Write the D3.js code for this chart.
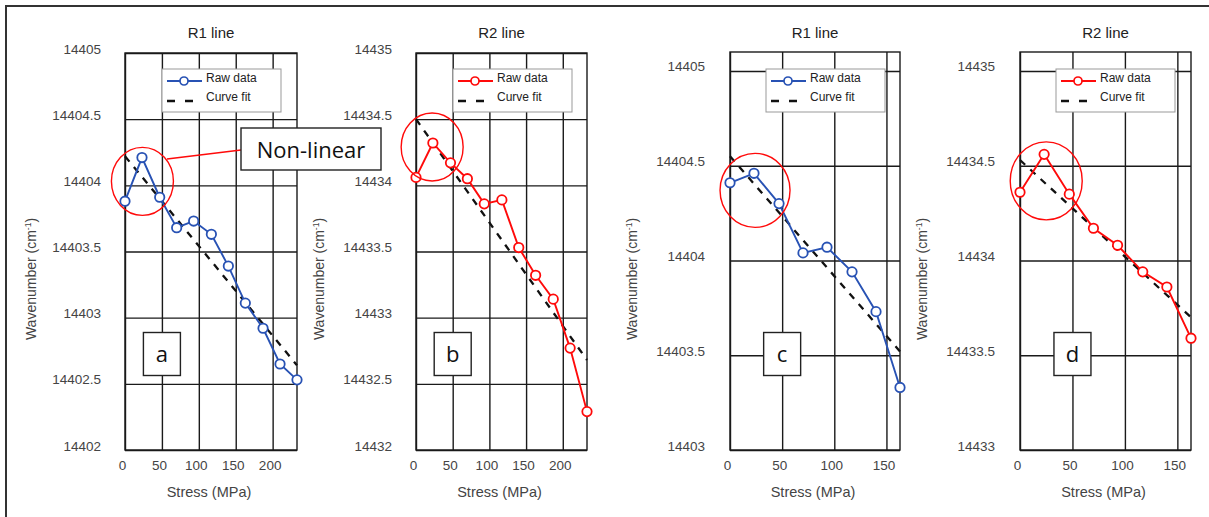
<!DOCTYPE html>
<html>
<head>
<meta charset="utf-8">
<script src="https://cdn.jsdelivr.net/npm/d3@7"></script>
<style>
  body { margin: 0; background: #fff; }
  svg { display: block; font-family: "Liberation Sans", Arial, sans-serif; }
</style>
</head>
<body>
<svg id="chart" width="1209" height="517"></svg>
<script>
// stress steps (MPa)
var stressAB = [0, 23, 47, 70, 93, 117, 140, 163, 187, 210, 233];
var stressCD = [0, 23, 47, 70, 93, 117, 140, 163];

// raw wavenumbers (cm-1)
var rawA = [14403.88, 14404.21, 14403.91, 14403.68, 14403.73, 14403.63, 14403.39, 14403.11, 14402.92, 14402.65, 14402.53];
var rawB = [14434.06, 14434.32, 14434.17, 14434.05, 14433.86, 14433.89, 14433.53, 14433.32, 14433.14, 14432.77, 14432.29];
var rawC = [14404.41, 14404.46, 14404.30, 14404.04, 14404.07, 14403.94, 14403.73, 14403.33];
var rawD = [14434.36, 14434.56, 14434.35, 14434.17, 14434.08, 14433.94, 14433.86, 14433.59];

// linear fit end points [at 0, at max stress]
var fitA = [14404.22, 14402.64];
var fitB = [14434.50, 14432.68];
var fitC = [14404.55, 14403.52];
var fitD = [14434.53, 14433.70];

// tick labels
var xTicksAB = [0, 50, 100, 150, 200];
var xTicksCD = [0, 50, 100, 150];
var yTicksA = [14402, 14402.5, 14403, 14403.5, 14404, 14404.5, 14405];
var yTicksB = [14432, 14432.5, 14433, 14433.5, 14434, 14434.5, 14435];
var yTicksC = [14403, 14403.5, 14404, 14404.5, 14405];
var yTicksD = [14433, 14433.5, 14434, 14434.5, 14435];

// "non-linear" region marks (stress, wavenumber)
var nonLinearA = [23.6, 14404.03];
var nonLinearB = [22, 14434.29];
var nonLinearC = [24, 14404.37];
var nonLinearD = [25, 14434.42];

var blue = "#2852b4", red = "#ff0a0a";

var panels = [
  {title: "R1 line", tag: "a", x: stressAB, y: rawA, fit: fitA, xt: xTicksAB, yt: yTicksA,
   xmax: 233, ymin: 14402, ymax: 14405, color: blue, ring: nonLinearA, rx: 31, ry: 34,
   left: 125, right: 297, top: 53, bottom: 450, ylabX: 35, tickX: 101, legX: 162},
  {title: "R2 line", tag: "b", x: stressAB, y: rawB, fit: fitB, xt: xTicksAB, yt: yTicksB,
   xmax: 233, ymin: 14432, ymax: 14435, color: red, ring: nonLinearB, rx: 31, ry: 34,
   left: 416, right: 587, top: 53, bottom: 450, ylabX: 323, tickX: 392, legX: 453},
  {title: "R1 line", tag: "c", x: stressCD, y: rawC, fit: fitC, xt: xTicksCD, yt: yTicksC,
   xmax: 163, ymin: 14403, ymax: 14405.1, color: blue, ring: nonLinearC, rx: 35, ry: 37,
   left: 730, right: 900, top: 52, bottom: 450, ylabX: 636, tickX: 705, legX: 766},
  {title: "R2 line", tag: "d", x: stressCD, y: rawD, fit: fitD, xt: xTicksCD, yt: yTicksD,
   xmax: 163, ymin: 14433, ymax: 14435.1, color: red, ring: nonLinearD, rx: 36, ry: 39,
   left: 1020, right: 1191, top: 52, bottom: 450, ylabX: 926, tickX: 995, legX: 1056}
];

var svg = d3.select("#chart");

// frame (top and left edges only)
svg.append("path")
    .attr("d", "M6,517V6H1209")
    .attr("fill", "none")
    .attr("stroke", "#333")
    .attr("stroke-width", 2);

var fmt = function(v){ return String(+v.toFixed(1)); };

panels.forEach(function(p){
    var xs = d3.scaleLinear().domain([0, p.xmax]).range([p.left, p.right]);
    var ys = d3.scaleLinear().domain([p.ymin, p.ymax]).range([p.bottom, p.top]);
    var g = svg.append("g");
    var w = p.right - p.left, h = p.bottom - p.top;

    // grid via axes
    var gx = g.append("g")
        .attr("transform", "translate(0," + p.bottom + ")")
        .call(d3.axisBottom(xs).tickValues(p.xt).tickSize(-h).tickFormat(d3.format("d")));
    var gy = g.append("g")
        .attr("transform", "translate(" + p.left + ",0)")
        .call(d3.axisLeft(ys).tickValues(p.yt).tickSize(-w).tickFormat(fmt));
    [gx, gy].forEach(function(a){
        a.select(".domain").remove();
        a.selectAll("line").attr("stroke", "#1a1a1a").attr("stroke-width", 1.4);
        a.selectAll("text").attr("fill", "#444").attr("font-size", 13.5)
            .attr("font-family", "Liberation Sans, Arial, sans-serif");
    });
    gx.selectAll("text").attr("y", 10).attr("dx", -3);
    gy.selectAll("text").attr("x", p.tickX - p.left).attr("dy", "0em");

    g.append("rect")
        .attr("x", p.left).attr("y", p.top).attr("width", w).attr("height", h)
        .attr("fill", "none").attr("stroke", "#1a1a1a").attr("stroke-width", 1.4);

    // title and axis labels
    g.append("text")
        .attr("x", (p.left + p.right) / 2).attr("y", 38)
        .attr("text-anchor", "middle").attr("font-size", 15).attr("fill", "#222")
        .text(p.title);
    g.append("text")
        .attr("x", (p.left + p.right) / 2 - 2).attr("y", 497)
        .attr("text-anchor", "middle").attr("font-size", 14.5).attr("fill", "#444")
        .text("Stress (MPa)");
    var yl = g.append("text")
        .attr("transform", "translate(" + (p.ylabX + 1) + ",279) rotate(-90)")
        .attr("text-anchor", "middle").attr("font-size", 14).attr("fill", "#444");
    yl.append("tspan").text("Wavenumber (cm");
    yl.append("tspan").attr("font-size", 8.5).attr("dy", -5).text("-1");
    yl.append("tspan").attr("dy", 5).text(")");

    // tag box
    var tagX = xs(50), tagY = 354;
    g.append("rect")
        .attr("x", tagX - 18.5).attr("y", tagY - 21.5).attr("width", 37).attr("height", 43)
        .attr("fill", "#fff").attr("stroke", "#222").attr("stroke-width", 1.4);
    g.append("text")
        .attr("x", tagX).attr("y", tagY + 7.5)
        .attr("text-anchor", "middle").attr("font-size", 22).attr("fill", "#111")
        .attr("font-family", "Open Sans, Liberation Sans, sans-serif")
        .text(p.tag);

    // curve fit
    g.append("line")
        .attr("x1", xs(0)).attr("y1", ys(p.fit[0]))
        .attr("x2", xs(p.xmax)).attr("y2", ys(p.fit[1]))
        .attr("stroke", "#111").attr("stroke-width", 2.3)
        .attr("stroke-dasharray", "7,7");

    // raw data
    var pts = p.x.map(function(v, i){ return [v, p.y[i]]; });
    g.append("path")
        .datum(pts)
        .attr("fill", "none").attr("stroke", p.color).attr("stroke-width", 1.9)
        .attr("d", d3.line().x(function(d){ return xs(d[0]); }).y(function(d){ return ys(d[1]); }));
    g.selectAll("circle.pt").data(pts).enter().append("circle")
        .attr("class", "pt")
        .attr("cx", function(d){ return xs(d[0]); })
        .attr("cy", function(d){ return ys(d[1]); })
        .attr("r", 4.7)
        .attr("fill", "#fff").attr("stroke", p.color).attr("stroke-width", 1.8);

    // legend
    var lg = g.append("g").attr("transform", "translate(" + p.legX + ",69)");
    lg.append("rect").attr("width", 119).attr("height", 43)
        .attr("fill", "#fff").attr("stroke", "#999").attr("stroke-width", 1);
    lg.append("line").attr("x1", 5).attr("x2", 40).attr("y1", 12).attr("y2", 12)
        .attr("stroke", p.color).attr("stroke-width", 1.9);
    lg.append("circle").attr("cx", 22).attr("cy", 12).attr("r", 4)
        .attr("fill", "#fff").attr("stroke", p.color).attr("stroke-width", 1.7);
    lg.append("line").attr("x1", 5).attr("x2", 40).attr("y1", 32).attr("y2", 32)
        .attr("stroke", "#111").attr("stroke-width", 2.3).attr("stroke-dasharray", "8,10");
    lg.append("text").attr("x", 44).attr("y", 12).attr("dy", "0.1em")
        .attr("font-size", 12).attr("fill", "#222").text("Raw data");
    lg.append("text").attr("x", 44).attr("y", 31).attr("dy", "0.1em")
        .attr("font-size", 12).attr("fill", "#222").text("Curve fit");

    // non-linear ring
    g.append("ellipse")
        .attr("cx", xs(p.ring[0])).attr("cy", ys(p.ring[1]))
        .attr("rx", p.rx).attr("ry", p.ry)
        .attr("fill", "none").attr("stroke", red).attr("stroke-width", 1.4);
});

// callout for panel a
svg.append("line")
    .attr("x1", 167).attr("y1", 159).attr("x2", 241).attr("y2", 150)
    .attr("stroke", red).attr("stroke-width", 1.6);
svg.append("rect")
    .attr("x", 241).attr("y", 128).attr("width", 140).attr("height", 42)
    .attr("fill", "#fff").attr("stroke", "#222").attr("stroke-width", 1.4);
svg.append("text")
    .attr("x", 311).attr("y", 157.5)
    .attr("text-anchor", "middle").attr("font-size", 22).attr("fill", "#111")
    .attr("font-family", "Open Sans, Liberation Sans, sans-serif")
    .text("Non-linear");
</script>
</body>
</html>
